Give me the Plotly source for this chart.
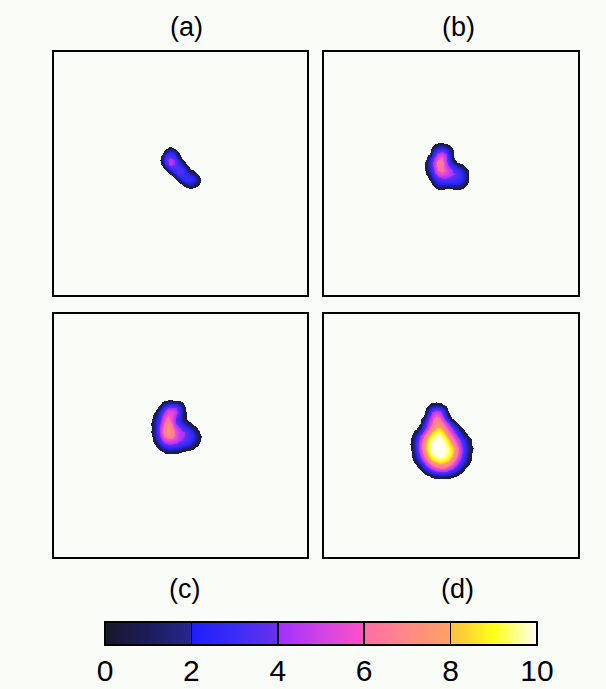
import numpy as np
import plotly.graph_objects as go

# ---------------- data ----------------
panel_labels = ["(a)", "(b)", "(c)", "(d)"]
colorbar_ticks = [0, 2, 4, 6, 8, 10]
colorbar_ticktext = ["0", "2", "4", "6", "8", "10"]
z_min, z_max = 0, 10
cell = 4  # grid spacing (panel pixel units)

# panel (a)
grid_a = [
    [0, 0.3, 0.8, 0.4, 0, 0, 0, 0, 0, 0, 0],
    [0, 1.5, 2.5, 2.0, 0.5, 0, 0, 0, 0, 0, 0],
    [0.8, 3.0, 3.5, 3.0, 1.2, 0, 0, 0, 0, 0, 0],
    [1.0, 3.5, 4.5, 4.0, 2.5, 0.8, 0, 0, 0, 0, 0],
    [0.8, 3.0, 4.5, 4.0, 3.0, 2.0, 0.6, 0, 0, 0, 0],
    [0, 1.2, 3.0, 3.5, 3.5, 3.0, 1.8, 0.3, 0, 0, 0],
    [0, 0, 1.0, 2.5, 3.5, 3.5, 2.5, 1.4, 0.8, 0, 0],
    [0, 0, 0, 0.8, 2.5, 3.0, 3.0, 2.5, 2.0, 0.8, 0],
    [0, 0, 0, 0, 0.7, 2.0, 3.0, 3.0, 2.5, 1.4, 0],
    [0, 0, 0, 0, 0, 0.5, 1.5, 2.0, 1.5, 0.7, 0],
    [0, 0, 0, 0, 0, 0, 0.2, 0.6, 0.4, 0, 0],
]
origin_a = (108, 96)

# panel (b)
grid_b = [
    [0, 0, 0, 0.2, 0.3, 0, 0, 0, 0, 0, 0, 0],
    [0, 0, 0.8, 1.5, 1.8, 1.2, 0.6, 0, 0, 0, 0, 0],
    [0, 0.3, 2.0, 3.0, 3.5, 2.8, 1.5, 0.3, 0, 0, 0, 0],
    [0, 0.6, 3.0, 4.5, 5.0, 4.0, 2.0, 0.4, 0, 0, 0, 0],
    [0.4, 2.0, 4.0, 5.5, 6.0, 4.5, 2.0, 0.5, 0, 0, 0, 0],
    [0.7, 2.5, 4.5, 6.5, 6.5, 4.5, 2.5, 1.0, 0.3, 0, 0, 0],
    [0.8, 2.5, 4.5, 6.5, 6.5, 5.0, 3.5, 2.5, 1.6, 1.0, 0.3, 0],
    [0.7, 2.2, 4.0, 6.0, 6.5, 5.5, 4.5, 3.5, 3.0, 2.2, 1.0, 0],
    [0.5, 1.5, 3.5, 5.0, 5.5, 5.0, 4.5, 4.0, 3.5, 2.6, 1.4, 0],
    [0, 0.8, 2.5, 3.5, 4.0, 4.0, 3.8, 3.5, 3.2, 2.6, 1.4, 0],
    [0, 0.3, 1.5, 2.5, 2.8, 2.8, 2.8, 2.8, 2.6, 2.0, 1.0, 0],
    [0, 0, 0.6, 1.5, 1.5, 1.2, 1.3, 1.5, 1.6, 1.1, 0.4, 0],
    [0, 0, 0, 0.3, 0.3, 0.2, 0, 0.3, 0.4, 0.2, 0, 0],
]
origin_b = (102, 90)

# panel (c)
grid_c = [
    [0, 0, 0, 0.3, 0.5, 0.5, 0.4, 0.2, 0, 0, 0, 0, 0, 0],
    [0, 0, 0.3, 1.5, 2.2, 2.5, 2.2, 1.5, 0.4, 0, 0, 0, 0, 0],
    [0, 0.2, 1.2, 3.0, 4.0, 4.2, 4.0, 2.8, 0.9, 0, 0, 0, 0, 0],
    [0, 0.8, 2.5, 4.0, 5.5, 5.5, 4.5, 3.0, 1.0, 0, 0, 0, 0, 0],
    [0.3, 1.5, 3.0, 5.0, 6.0, 5.5, 4.0, 2.8, 1.0, 0, 0, 0, 0, 0],
    [0.6, 2.0, 3.5, 5.5, 6.5, 5.5, 3.5, 2.5, 1.2, 0.3, 0, 0, 0, 0],
    [0.7, 2.2, 4.0, 6.0, 7.0, 6.0, 4.0, 3.0, 2.2, 1.2, 0.5, 0, 0, 0],
    [0.6, 2.3, 4.5, 6.5, 7.5, 6.5, 5.0, 4.0, 3.2, 2.5, 1.5, 0.7, 0, 0],
    [0.7, 2.3, 4.5, 6.5, 7.5, 7.0, 5.5, 4.5, 4.0, 3.2, 2.5, 1.3, 0.4, 0],
    [0.5, 2.0, 4.0, 6.0, 7.0, 6.5, 5.5, 4.5, 4.0, 3.5, 2.8, 1.6, 0.7, 0],
    [0.3, 1.5, 3.2, 5.0, 5.5, 5.5, 5.0, 4.2, 3.8, 3.3, 2.5, 1.5, 0.6, 0],
    [0, 0.8, 2.2, 3.5, 4.0, 4.0, 3.8, 3.3, 3.0, 2.5, 1.8, 1.0, 0.3, 0],
    [0, 0.2, 1.0, 2.0, 2.5, 2.5, 2.3, 2.0, 1.5, 1.2, 0.8, 0.3, 0, 0],
    [0, 0, 0, 0.6, 0.9, 0.9, 0.8, 0.6, 0.3, 0, 0, 0, 0, 0],
    [0, 0, 0, 0, 0, 0, 0, 0, 0, 0, 0, 0, 0, 0],
]
origin_c = (98, 86)

# panel (d)
grid_d = [
    [0, 0, 0, 0, 0, 0, 0, 0, 0, 0, 0, 0, 0, 0, 0, 0, 0],
    [0, 0, 0, 0, 0.3, 0.8, 1.0, 0.8, 0.3, 0, 0, 0, 0, 0, 0, 0, 0],
    [0, 0, 0, 0, 1.0, 2.5, 3.0, 2.8, 1.5, 0.2, 0, 0, 0, 0, 0, 0, 0],
    [0, 0, 0, 0.3, 2.0, 4.0, 5.0, 4.5, 2.8, 0.6, 0, 0, 0, 0, 0, 0, 0],
    [0, 0, 0, 0.6, 3.0, 5.0, 6.0, 5.5, 3.6, 1.2, 0, 0, 0, 0, 0, 0, 0],
    [0, 0, 0.3, 1.6, 3.8, 5.5, 7.0, 6.5, 4.8, 2.8, 0.9, 0.2, 0, 0, 0, 0, 0],
    [0, 0, 0.5, 2.5, 4.5, 6.0, 7.5, 7.2, 6.0, 4.5, 2.8, 1.0, 0.2, 0, 0, 0, 0],
    [0, 0.3, 1.1, 3.2, 5.2, 6.8, 8.0, 8.0, 7.0, 5.5, 4.0, 2.5, 1.0, 0.2, 0, 0, 0],
    [0.3, 1.0, 2.5, 4.5, 6.5, 8.0, 9.0, 9.0, 8.0, 6.5, 5.0, 3.5, 2.0, 0.8, 0, 0, 0],
    [0.6, 2.0, 4.0, 6.0, 7.8, 9.0, 9.8, 9.8, 9.0, 7.5, 6.0, 4.5, 3.0, 1.6, 0.6, 0, 0],
    [0.8, 2.5, 4.5, 6.8, 8.5, 9.6, 10, 10, 9.6, 8.5, 7.0, 5.5, 4.0, 2.5, 1.3, 0.4, 0],
    [1.0, 2.8, 5.0, 7.2, 9.0, 10, 10, 10, 10, 9.0, 7.8, 6.2, 4.5, 3.0, 1.6, 0.4, 0],
    [0.8, 2.8, 5.0, 7.2, 9.0, 10, 10, 10, 10, 9.5, 8.5, 7.0, 5.0, 3.2, 1.8, 0.7, 0],
    [0.6, 2.5, 4.6, 6.8, 8.6, 9.8, 10, 10, 10, 9.6, 8.6, 7.0, 5.0, 3.2, 1.7, 0.5, 0],
    [0.6, 2.0, 4.0, 6.0, 8.0, 9.2, 9.8, 10, 9.8, 9.2, 8.2, 6.5, 4.6, 3.0, 1.5, 0.4, 0],
    [0.3, 1.2, 3.0, 5.0, 6.8, 8.2, 9.0, 9.2, 9.0, 8.4, 7.2, 5.6, 4.0, 2.5, 1.2, 0.3, 0],
    [0, 0.6, 1.8, 3.6, 5.2, 6.5, 7.4, 7.8, 7.6, 7.0, 6.0, 4.6, 3.2, 1.8, 0.7, 0, 0],
    [0, 0, 0.7, 2.2, 3.6, 4.8, 5.6, 6.0, 6.0, 5.4, 4.5, 3.4, 2.2, 0.8, 0, 0, 0],
    [0, 0, 0, 0.8, 1.8, 2.8, 3.5, 3.8, 3.8, 3.4, 2.6, 1.8, 0.9, 0.2, 0, 0, 0],
    [0, 0, 0, 0, 0.3, 0.8, 1.2, 1.4, 1.4, 1.2, 0.8, 0.5, 0, 0, 0, 0, 0],
    [0, 0, 0, 0, 0, 0, 0, 0, 0, 0, 0, 0, 0, 0, 0, 0, 0],
]
origin_d = (88, 86)

# ---------------- styling ----------------
W, H = 606, 689
BG = "#fafcf8"
FONT = "Liberation Sans, Arial, Helvetica, sans-serif"

palette = [
    [0.0, "#18182a"],
    [0.1, "#1c1c5c"],
    [0.1999, "#27278e"],
    [0.2, "#1e1eff"],
    [0.3, "#3a2cf4"],
    [0.3999, "#6a30ee"],
    [0.4, "#a030ff"],
    [0.5, "#d042e6"],
    [0.5999, "#ff52c4"],
    [0.6, "#ff6ea6"],
    [0.7, "#ff8888"],
    [0.7999, "#ffa262"],
    [0.8, "#ffbe40"],
    [0.9, "#ffff18"],
    [1.0, "#fffff4"],
]
# same palette for the panels, with the empty background below a small threshold
heat_scale = [[0.0, BG], [0.049, BG], [0.05, "#1a1a40"]] + [s for s in palette if s[0] >= 0.1]


def px_dom(a, b, total, flip=False):
    if flip:
        return [1 - b / total, 1 - a / total]
    return [a / total, b / total]


panels = [
    (grid_a, origin_a, (54, 307), (52, 295)),
    (grid_b, origin_b, (324, 578), (52, 295)),
    (grid_c, origin_c, (54, 307), (314, 557)),
    (grid_d, origin_d, (324, 578), (314, 557)),
]

fig = go.Figure()
layout_axes = {}
for i, (grid, origin, xs, ys) in enumerate(panels):
    n = "" if i == 0 else str(i + 1)
    z = np.pad(np.array(grid, dtype=float), 1)
    fig.add_trace(go.Heatmap(
        z=z, x0=origin[0] - cell, dx=cell, y0=origin[1] - cell, dy=cell,
        zmin=z_min, zmax=z_max, colorscale=heat_scale, zsmooth="best",
        showscale=False, hoverinfo="skip", xaxis="x" + n, yaxis="y" + n,
    ))
    pw = xs[1] - xs[0]
    ph = ys[1] - ys[0]
    axcommon = dict(showgrid=False, zeroline=False, showticklabels=False, ticks="",
                    showline=True, mirror=True, linecolor="black", linewidth=2)
    layout_axes["xaxis" + n] = dict(domain=px_dom(xs[0], xs[1], W), range=[0, pw],
                                    anchor="y" + n, **axcommon)
    layout_axes["yaxis" + n] = dict(domain=px_dom(ys[0], ys[1], H, flip=True), range=[ph, 0],
                                    anchor="x" + n, **axcommon)

# colour bar (bar + inside tick marks) ; labels drawn by a matching value axis below it
CB_X = (105, 537)
CB_Y = (622, 645)
fig.add_trace(go.Scatter(
    x=[None], y=[None], mode="markers", showlegend=False, hoverinfo="skip",
    marker=dict(color=[0], cmin=z_min, cmax=z_max, colorscale=palette, showscale=True,
                colorbar=dict(orientation="h", x=(CB_X[0] + CB_X[1]) / 2 / W, xanchor="center",
                              y=1 - CB_Y[0] / H, yanchor="top",
                              len=(CB_X[1] - CB_X[0]) / W, lenmode="fraction",
                              thickness=CB_Y[1] - CB_Y[0], thicknessmode="pixels",
                              outlinewidth=2, outlinecolor="black",
                              tickvals=colorbar_ticks, showticklabels=False,
                              ticks="inside", ticklen=CB_Y[1] - CB_Y[0],
                              tickwidth=1.5, tickcolor="black",
                              xpad=0, ypad=0)),
))
# carrier so that the label axis is drawn
fig.add_trace(go.Scatter(x=[None], y=[None], mode="markers", showlegend=False,
                         hoverinfo="skip", xaxis="x5", yaxis="y5"))
layout_axes["xaxis5"] = dict(domain=px_dom(CB_X[0], CB_X[1], W), range=[z_min, z_max],
                             anchor="y5", showgrid=False, zeroline=False, showline=False,
                             ticks="", tickvals=colorbar_ticks, ticktext=colorbar_ticktext,
                             tickfont=dict(size=30, family=FONT, color="black"),
                             ticklabelstandoff=5, fixedrange=True, side="bottom")
layout_axes["yaxis5"] = dict(domain=px_dom(CB_Y[0], CB_Y[1], H, flip=True), range=[0, 1],
                             anchor="x5", showgrid=False, zeroline=False, showline=False,
                             showticklabels=False, ticks="", fixedrange=True)

label_pos = [(186, 27), (458, 27), (185, 589), (457, 589)]
annotations = [
    dict(text=t, x=p[0] / W, y=1 - p[1] / H, xref="paper", yref="paper",
         showarrow=False, xanchor="center", yanchor="middle",
         font=dict(size=27, family=FONT, color="black"))
    for t, p in zip(panel_labels, label_pos)
]

fig.update_layout(
    width=W, height=H, margin=dict(l=0, r=0, t=0, b=0, autoexpand=False),
    paper_bgcolor=BG, plot_bgcolor=BG, showlegend=False,
    annotations=annotations, **layout_axes,
)

fig.write_html("out.html",
               config={"displayModeBar": False, "staticPlot": True},
               post_script="document.body.style.margin='0';"
                           "document.body.style.background='" + BG + "';")
